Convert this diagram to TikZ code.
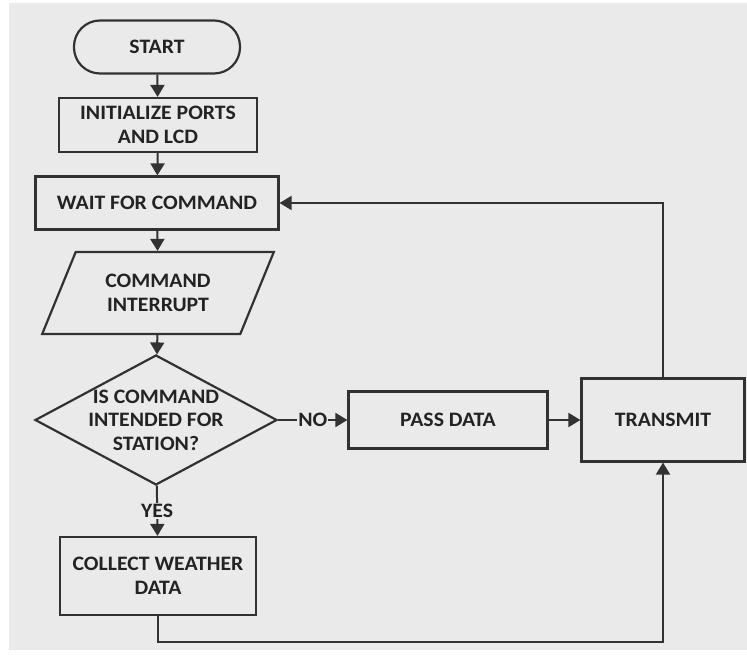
\documentclass[tikz,border=0pt]{standalone}
\usepackage{fontspec}
\setmainfont{Carlito}[FakeStretch=1.06]
\usetikzlibrary{arrows.meta,shapes.geometric,calc}
\definecolor{bg}{RGB}{234,234,234}
\definecolor{ln}{RGB}{50,50,50}
\definecolor{tx}{RGB}{35,35,35}
\begin{document}
\begin{tikzpicture}[x=1pt,y=-1pt,
  every node/.style={font=\fontsize{20.5}{23.5}\selectfont\bfseries, text=tx, align=center},
  box/.style={draw=ln, line width=2.2pt, fill=bg, inner sep=0pt},
  conn/.style={draw=ln, line width=2pt},
  arr/.style={conn, -{Triangle[length=12pt,width=14pt]}},
  lbl/.style={fill=bg, inner sep=1pt}
]
\useasboundingbox (0,0) rectangle (747,655);
\fill[white] (0,0) rectangle (747,655);
\fill[bg] (9,3) rectangle (747,650);

\node[box, rounded corners=26pt, minimum width=166pt, minimum height=53pt] (start) at (157,47) {START};
\node[box, minimum width=198pt, minimum height=54pt] (init) at (158,125) {INITIALIZE PORTS\\AND LCD};
\node[box, minimum width=243pt, minimum height=53pt] (wait) at (157,203) {WAIT FOR COMMAND};
\node[box, trapezium, trapezium left angle=60, trapezium right angle=120, trapezium stretches=true,
      minimum width=232pt, minimum height=82pt] (cmd) at (158,293) {COMMAND\\INTERRUPT};
\node[box, diamond, minimum width=242pt, minimum height=130pt,
      label={[align=center]center:IS COMMAND\\INTENDED FOR\\STATION?}] (dec) at (156,420) {};
\node[box, minimum width=199pt, minimum height=57pt] (pass) at (448,420) {PASS DATA};
\node[box, minimum width=163pt, minimum height=83pt] (trans) at (663,420) {TRANSMIT};
\node[box, minimum width=196pt, minimum height=78pt] (coll) at (158,576) {COLLECT WEATHER\\DATA};

\coordinate (tr) at (663,203);
\coordinate (bl) at (158,642);
\coordinate (br) at (663,642);

\draw[arr] (start) -- (init);
\draw[arr] (init) -- (wait);
\draw[arr] (wait) -- (cmd);
\draw[arr] (cmd) -- (dec);
\draw[arr] (dec) -- node[lbl] {NO} (pass);
\draw[arr] (dec) -- node[lbl] {YES} (coll);
\draw[arr] (pass) -- (trans);
\draw[arr] (trans.north) -- (tr) -- (wait.east);
\draw[arr] (coll.south) -- (bl) -- (br) -- (trans.south);
\end{tikzpicture}
\end{document}
